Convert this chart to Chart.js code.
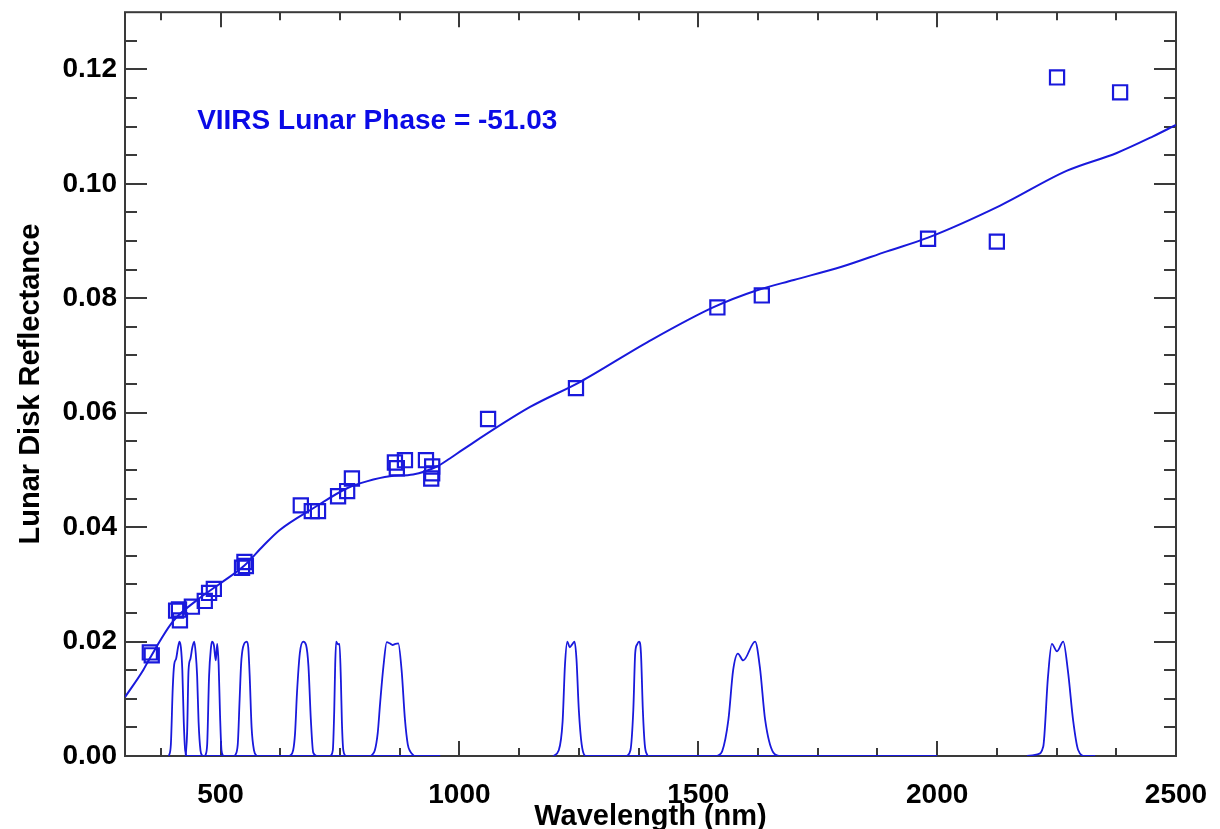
<!DOCTYPE html>
<html>
<head>
<meta charset="utf-8">
<title>VIIRS Lunar Disk Reflectance</title>
<script src="https://cdn.jsdelivr.net/npm/chart.js@4"></script>
<style>
    html, body { margin: 0; padding: 0; background: #fff; }
    #wrap { width: 1220px; height: 829px; }
</style>
</head>
<body>
<div id="wrap"><canvas id="lunarChart"></canvas></div>
<script>
// Measured lunar disk reflectance per band (squares)
const measWave = [352, 356, 407, 413, 415, 440, 467, 476, 486, 545, 550, 553,
    668, 691, 704, 746, 765, 775, 865, 869, 886, 930, 943, 943, 941,
    1060, 1244, 1540, 1633, 1981, 2125, 2251, 2383];
const measRefl = [0.0181, 0.0176, 0.0254, 0.0256, 0.0237, 0.0261, 0.0271, 0.0285, 0.0292, 0.0329, 0.0339, 0.0332,
    0.0438, 0.0428, 0.0428, 0.0454, 0.0463, 0.0485, 0.0513, 0.0503, 0.0517, 0.0517, 0.0506, 0.0494, 0.0485,
    0.0589, 0.0643, 0.0784, 0.0805, 0.0904, 0.0899, 0.1186, 0.1160];

// Model reflectance spectrum (solid line)
const fitWave = [300, 338, 350, 400, 450, 500, 550, 589, 624, 694, 765, 806, 854, 903, 953, 980,
    1008, 1148, 1253, 1393, 1531, 1623, 1700, 1800, 1895, 1981, 2132, 2272, 2376, 2452, 2500];
const fitRefl = [0.0103, 0.0150, 0.0168, 0.0235, 0.0272, 0.0302, 0.0333, 0.0367, 0.0395, 0.0433, 0.0468, 0.0480, 0.0489, 0.0492, 0.0506, 0.0520,
    0.0536, 0.0610, 0.0654, 0.0723, 0.0784, 0.0814, 0.0832, 0.0855, 0.0882, 0.0906, 0.0962, 0.1023, 0.1054, 0.1083, 0.1103];

// Band relative spectral responses, scaled to 0.02 ([nm, value])
const rsrM1 = [[392, 0], [396, 0.002], [400, 0.012], [403, 0.016], [407, 0.017], [411, 0.019], [414, 0.020], [417, 0.019], [420, 0.015], [423, 0.006], [426, 0.001], [430, 0], [960, 0]];
const rsrM2 = [[427, 0], [430, 0.004], [433, 0.015], [437, 0.017], [441, 0.019], [445, 0.020], [448, 0.018], [451, 0.014], [454, 0.006], [458, 0.001], [462, 0]];
const rsrM3 = [[468, 0], [472, 0.002], [476, 0.014], [480, 0.019], [482, 0.020], [486, 0.0194], [490, 0.0167], [493, 0.0196], [496, 0.016], [499, 0.007], [502, 0.001], [506, 0]];
const rsrM4 = [[530, 0], [536, 0.002], [540, 0.010], [543, 0.016], [547, 0.019], [555, 0.020], [558, 0.019], [561, 0.014], [565, 0.005], [570, 0.001], [576, 0]];
const rsrM5 = [[645, 0], [652, 0.001], [656, 0.004], [660, 0.011], [666, 0.018], [673, 0.020], [679, 0.0194], [684, 0.0157], [689, 0.0064], [694, 0.0006], [702, 0]];
const rsrM6 = [[730, 0], [735, 0.001], [738, 0.008], [740, 0.016], [742, 0.020], [746, 0.0195], [749, 0.0196], [752, 0.013], [754, 0.006], [757, 0.001], [762, 0]];
const rsrM7 = [[815, 0], [823, 0.001], [829, 0.004], [834, 0.0092], [841, 0.0157], [848, 0.0199], [854, 0.0197], [860, 0.0194], [866, 0.0196], [872, 0.0197], [879, 0.015], [886, 0.0064], [892, 0.002], [897, 0.0008], [905, 0]];
const rsrM8 = [[1196, 0], [1208, 0.001], [1216, 0.006], [1221, 0.016], [1226, 0.020], [1231, 0.019], [1236, 0.0195], [1241, 0.020], [1245, 0.017], [1250, 0.008], [1256, 0.002], [1266, 0], [2000, 0]];
const rsrM9 = [[1350, 0], [1358, 0.001], [1364, 0.008], [1368, 0.018], [1372, 0.0195], [1376, 0.020], [1380, 0.018], [1384, 0.008], [1388, 0.002], [1394, 0]];
const rsrM10 = [[1540, 0], [1550, 0.0008], [1563, 0.0063], [1573, 0.015], [1583, 0.0179], [1594, 0.0167], [1619, 0.020], [1629, 0.0155], [1640, 0.0063], [1657, 0.0006], [1670, 0]];
const rsrM11 = [[2188, 0], [2210, 0.0003], [2222, 0.0016], [2232, 0.0138], [2240, 0.0196], [2251, 0.0183], [2264, 0.020], [2274, 0.0147], [2285, 0.006], [2295, 0.0011], [2310, 0], [2331, 0]];

const xTickValues = [500, 1000, 1500, 2000, 2500];
const yTickValues = [0, 0.02, 0.04, 0.06, 0.08, 0.10, 0.12];
const phaseLabel = 'VIIRS Lunar Phase = -51.03';

const BLUE = 'rgb(25, 25, 220)';
const FONT = '"Liberation Sans", Arial, sans-serif';

function toXY(pairs) {
    return pairs.map(p => ({ x: p[0], y: p[1] }));
}

function bandDataset(pairs) {
    return {
        data: toXY(pairs),
        borderColor: BLUE,
        borderWidth: 1.8,
        pointRadius: 0,
        cubicInterpolationMode: 'monotone',
        order: 3
    };
}

// box frame with inward ticks on all four sides, plus the phase note
const framePlugin = {
    id: 'frame',
    beforeDatasetsDraw(chart) {
        const { ctx, chartArea: a, scales: { x, y } } = chart;
        ctx.save();
        ctx.strokeStyle = '#3a3a3a';
        ctx.lineWidth = 2;
        ctx.strokeRect(a.left, a.top, a.right - a.left, a.bottom - a.top);
        ctx.beginPath();
        for (let v = 375; v < 2500; v += 125) {
            const px = Math.round(x.getPixelForValue(v));
            const len = v % 500 === 0 ? 15 : 8;
            ctx.moveTo(px, a.bottom); ctx.lineTo(px, a.bottom - len);
            ctx.moveTo(px, a.top); ctx.lineTo(px, a.top + len);
        }
        for (let i = 1; i < 26; i++) {
            const py = Math.round(y.getPixelForValue(i * 0.005));
            const len = i % 4 === 0 ? 22 : 12;
            ctx.moveTo(a.left, py); ctx.lineTo(a.left + len, py);
            ctx.moveTo(a.right, py); ctx.lineTo(a.right - len, py);
        }
        ctx.stroke();
        ctx.restore();
    },
    afterDatasetsDraw(chart) {
        const { ctx, scales: { x, y } } = chart;
        ctx.save();
        ctx.fillStyle = 'rgb(10, 10, 230)';
        ctx.font = 'bold 28px ' + FONT;
        ctx.textBaseline = 'alphabetic';
        ctx.fillText(phaseLabel, x.getPixelForValue(451), y.getPixelForValue(0.1096));
        ctx.restore();
    }
};

const ctx = document.getElementById('lunarChart').getContext('2d');

new Chart(ctx, {
    type: 'line',
    data: {
        datasets: [
            {
                data: measWave.map((w, i) => ({ x: w, y: measRefl[i] })),
                showLine: false,
                pointStyle: 'rect',
                pointRadius: 10,
                pointBorderWidth: 2.2,
                pointBorderColor: BLUE,
                pointBackgroundColor: 'rgba(0,0,0,0)',
                order: 1
            },
            {
                data: fitWave.map((w, i) => ({ x: w, y: fitRefl[i] })),
                borderColor: BLUE,
                borderWidth: 2,
                pointRadius: 0,
                cubicInterpolationMode: 'monotone',
                order: 2
            },
            bandDataset(rsrM1), bandDataset(rsrM2), bandDataset(rsrM3), bandDataset(rsrM4),
            bandDataset(rsrM5), bandDataset(rsrM6), bandDataset(rsrM7), bandDataset(rsrM8),
            bandDataset(rsrM9), bandDataset(rsrM10), bandDataset(rsrM11)
        ]
    },
    options: {
        responsive: true,
        maintainAspectRatio: false,
        animation: false,
        layout: { padding: { top: 10, right: 44, left: 0, bottom: 0 } },
        plugins: {
            legend: { display: false },
            tooltip: { enabled: false }
        },
        scales: {
            x: {
                type: 'linear',
                min: 300,
                max: 2500,
                afterBuildTicks: s => { s.ticks = xTickValues.map(v => ({ value: v })); },
                afterFit: s => {
                    s.height = 73;
                    s.paddingLeft = 0;
                    s.paddingRight = 0;
                },
                grid: { display: false, drawTicks: false },
                border: { display: false },
                ticks: {
                    autoSkip: false,
                    maxRotation: 0,
                    padding: 22,
                    color: '#000',
                    font: { family: FONT, size: 28, weight: 'bold' },
                    callback: v => String(v)
                },
                title: {
                    display: true,
                    text: 'Wavelength (nm)',
                    color: '#000',
                    padding: { top: 0, bottom: 0 },
                    font: { family: FONT, size: 29, weight: 'bold', lineHeight: 0.85 }
                }
            },
            y: {
                min: 0,
                max: 0.13,
                afterBuildTicks: s => { s.ticks = yTickValues.map(v => ({ value: v })); },
                afterFit: s => {
                    s.width = 125;
                    s.paddingTop = 0;
                    s.paddingBottom = 0;
                },
                grid: { display: false, drawTicks: false },
                border: { display: false },
                ticks: {
                    padding: 8,
                    color: '#000',
                    font: { family: FONT, size: 28, weight: 'bold' },
                    callback: v => v.toFixed(2)
                },
                title: {
                    display: true,
                    text: 'Lunar Disk Reflectance',
                    color: '#000',
                    padding: { top: 14, bottom: 0 },
                    font: { family: FONT, size: 29, weight: 'bold' }
                }
            }
        }
    },
    plugins: [framePlugin]
});
</script>
</body>
</html>
